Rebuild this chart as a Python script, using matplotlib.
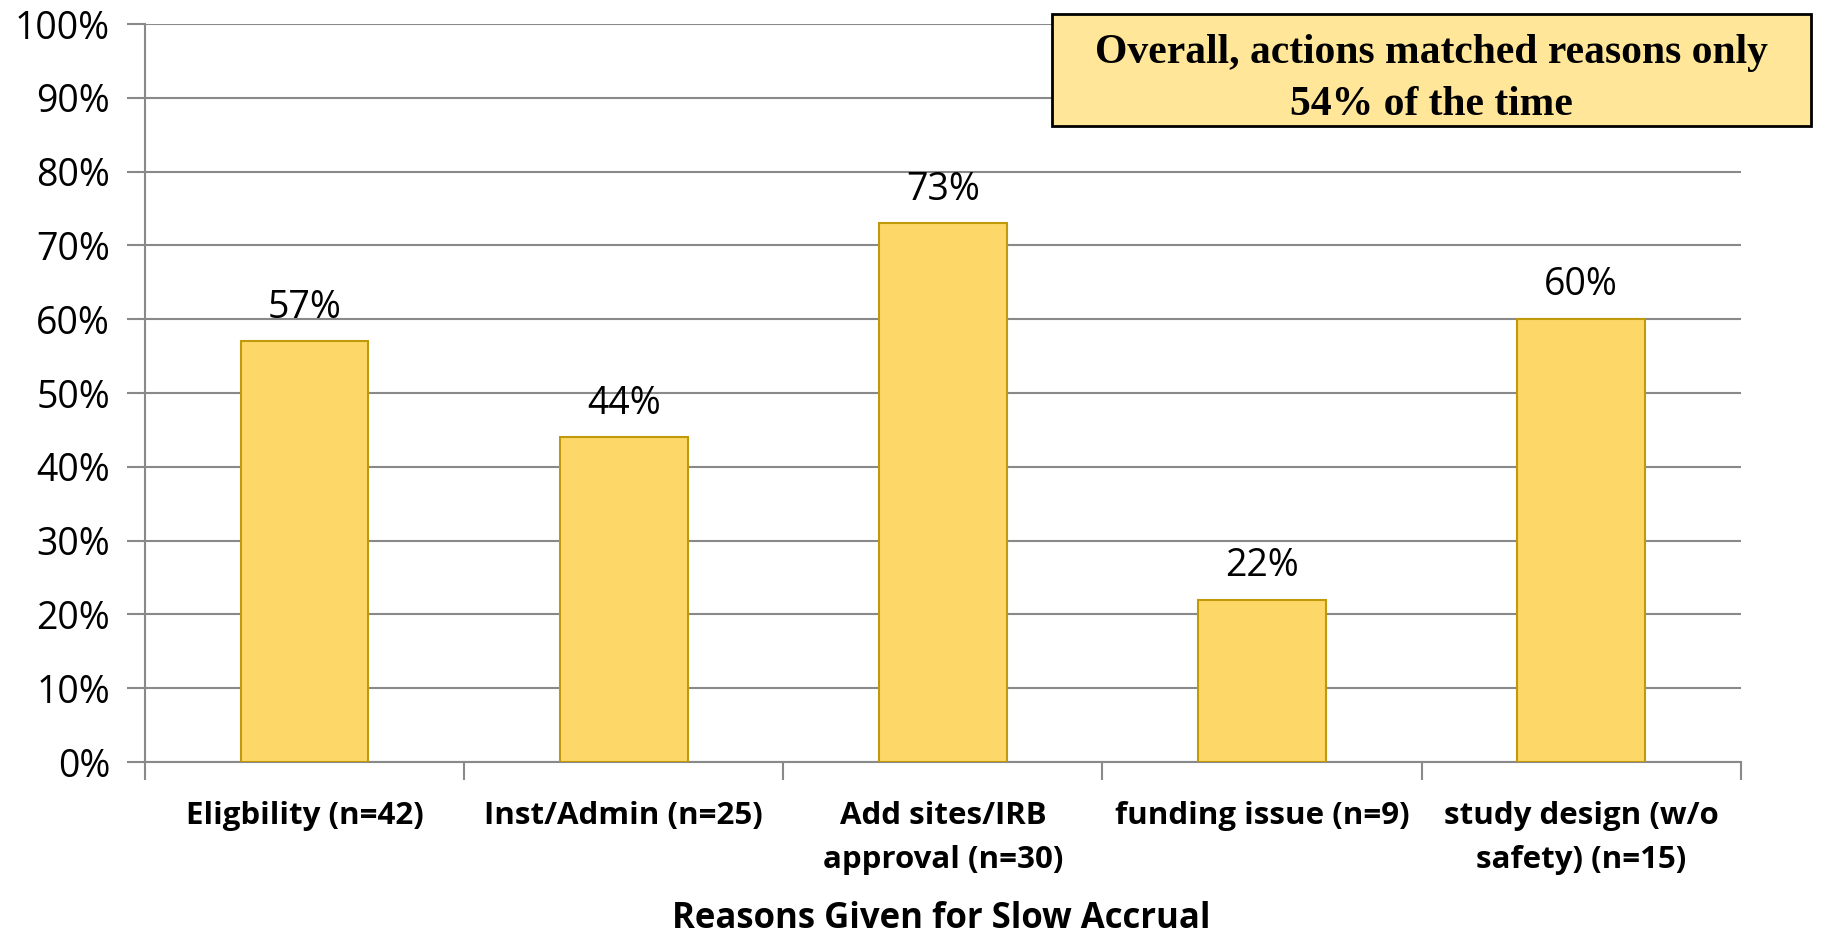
import matplotlib
matplotlib.use("Agg")
import matplotlib.pyplot as plt
import numpy as np
from matplotlib.ticker import FuncFormatter

plt.rcParams["font.family"] = ["Open Sans", "DejaVu Sans"]

# donnees
categories = ["Eligbility (n=42)", "Inst/Admin (n=25)", "Add sites/IRB\napproval (n=30)",
              "funding issue (n=9)", "study design (w/o\nsafety) (n=15)"]
values = [57, 44, 73, 22, 60]
note = "Overall, actions matched reasons only\n54% of the time"
x_title = "Reasons Given for Slow Accrual"

fig = plt.figure(figsize=(18.44, 9.38), dpi=100)
ax = fig.add_axes([0.0786, 0.1876, 0.8654, 0.7868])

x = np.arange(len(categories))
bars = ax.bar(x, values, width=0.4, color="#FDD868", edgecolor="#C19A0B", linewidth=1.5, zorder=3)

for b, v in zip(bars, values):
    ax.text(b.get_x() + b.get_width() / 2, v + 2.0, str(v) + "%", ha="center", va="bottom",
            fontsize=27, color="black")

ax.set_xlim(-0.5, len(categories) - 0.5)
ax.set_ylim(0, 100)
ax.set_yticks(np.arange(0, 101, 10))
ax.yaxis.set_major_formatter(FuncFormatter(lambda v, p: "%d%%" % v))
ax.yaxis.grid(True, color="#898989", linewidth=1.5, zorder=0)
ax.tick_params(axis="y", length=13, width=1.5, color="#898989", labelsize=27, pad=12)

# ticks x aux bornes des categories, etiquettes au centre
ax.set_xticks(np.arange(-0.5, len(categories), 1.0))
ax.set_xticklabels([])
ax.set_xticks(x, minor=True)
ax.set_xticklabels(categories, minor=True, fontsize=22.5, fontweight="bold", linespacing=1.62)
ax.tick_params(axis="x", which="major", length=13, width=1.5, color="#898989")
ax.tick_params(axis="x", which="minor", length=0, pad=28)

for s in ["top", "right"]:
    ax.spines[s].set_visible(False)
for s in ["left", "bottom"]:
    ax.spines[s].set_color("#898989")
    ax.spines[s].set_linewidth(1.5)

fig.text(0.5107, 1 - 919 / 938, x_title, fontsize=25, fontweight="bold",
         ha="center", va="center")

# encadre
box = plt.Rectangle((1052 / 1844, 1 - 126 / 938), (1811 - 1052) / 1844, (126 - 14) / 938,
                    transform=fig.transFigure, facecolor="#FFE699", edgecolor="black",
                    linewidth=2, zorder=5)
fig.patches.append(box)
fig.text((1052 + 1811) / 2 / 1844, 1 - 79 / 938, note, ha="center", va="center",
         fontsize=30, fontweight="bold", family="Liberation Serif", linespacing=1.45, zorder=6)

fig.savefig("out.png", dpi=100)
